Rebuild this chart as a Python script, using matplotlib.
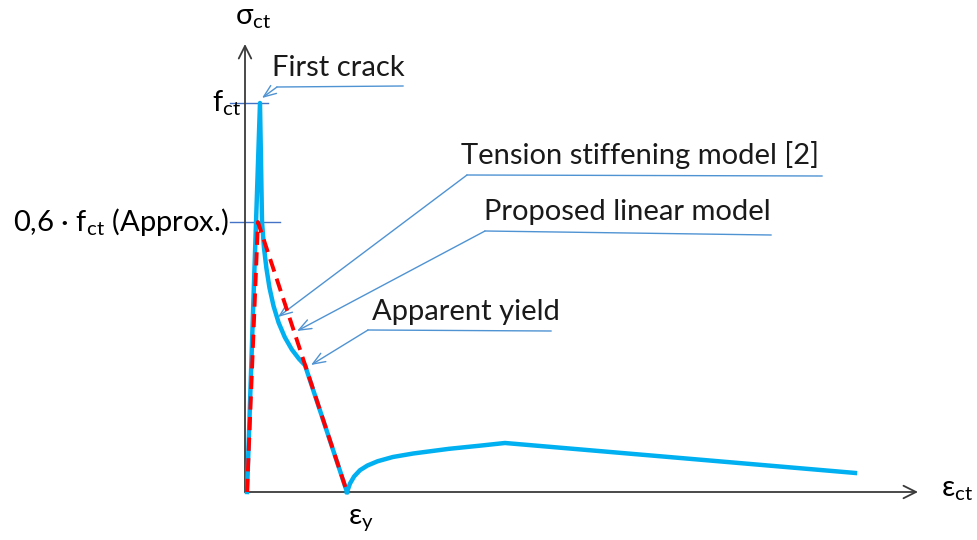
import matplotlib.pyplot as plt
import numpy as np

plt.rcParams['font.family'] = ['Lato', 'DejaVu Sans']
plt.rcParams['mathtext.fontset'] = 'custom'
plt.rcParams['mathtext.rm'] = 'Lato'
plt.rcParams['mathtext.it'] = 'Lato:italic'

# strain in units of eps_y, stress in units of f_ct
ts_eps = [0.02, 0.147, 0.167, 0.186, 0.21, 0.24, 0.28, 0.33, 0.39, 0.46, 0.53, 0.588, 1.0]
ts_sig = [0.0, 1.0, 0.694, 0.628, 0.575, 0.525, 0.478, 0.435, 0.398, 0.366, 0.342, 0.326, 0.0]
post_eps = [1.0, 1.03, 1.07, 1.127, 1.2, 1.3, 1.45, 1.65, 2.0, 2.3, 2.549, 5.98]
post_sig = [0.0, 0.022, 0.040, 0.056, 0.068, 0.079, 0.090, 0.099, 0.111, 0.119, 0.126, 0.049]
lin_eps = [0.02, 0.127, 1.0]
lin_sig = [0.0, 0.694, 0.0]
tick_sig = [1.0, 0.694]
tick_labels = ['f$_{\\mathrm{ct}}$', '0,6 · f$_{\\mathrm{ct}}$ (Approx.)']

# pixel -> data helper (image pixels, y from top)
X0, Y0, SX, SY = 245, 492, 102.0, 389.0
def px(x, y):
    return ((x - X0) / SX, (Y0 - y) / SY)

fig = plt.figure(figsize=(9.77, 5.4), dpi=100)
ax = fig.add_axes([0, 0, 1, 1])
ax.set_xlim(px(0, 0)[0], px(977, 0)[0])
ax.set_ylim(px(0, 540)[1], px(0, 0)[1])
ax.axis('off')

axis_col = '#3a3a3a'
blue = '#00b0f0'
lead = '#4f93d3'
tickc = '#4472c4'
fs = 21

# axes with open arrow heads
ax.annotate('', xy=px(245, 44), xytext=(0, 0),
            arrowprops=dict(arrowstyle='->,head_length=0.9,head_width=0.45', color=axis_col,
                            lw=1.3, shrinkA=0, shrinkB=0))
ax.annotate('', xy=px(918, 492), xytext=(0, 0),
            arrowprops=dict(arrowstyle='->,head_length=0.9,head_width=0.45', color=axis_col,
                            lw=1.3, shrinkA=0, shrinkB=0))

# tick marks on stress axis
ax.plot([px(230, 0)[0], px(268, 0)[0]], [tick_sig[0]] * 2, color=tickc, lw=1.0)
ax.plot([px(230, 0)[0], px(280, 0)[0]], [tick_sig[1]] * 2, color=tickc, lw=1.0)
ax.text(px(241, 0)[0], tick_sig[0], tick_labels[0], ha='right', va='center', fontsize=fs)
ax.text(px(229, 0)[0], tick_sig[1], tick_labels[1], ha='right', va='center', fontsize=fs)

# curves
ax.plot(ts_eps, ts_sig, color=blue, lw=3.2, solid_joinstyle='round', zorder=3)
ax.plot(post_eps, post_sig, color=blue, lw=3.2, solid_joinstyle='round', zorder=3)
ax.plot(lin_eps, lin_sig, color='red', lw=2.8, ls=(0, (3.4, 1.9)), zorder=4)

# axis labels
ax.text(*px(235, 18), 'σ$_{\\mathrm{ct}}$', ha='left', va='center', fontsize=fs)
ax.text(*px(941, 490), 'ε$_{\\mathrm{ct}}$', ha='left', va='center', fontsize=fs)
ax.text(*px(348, 520), 'ε$_{\\mathrm{y}}$', ha='left', va='center', fontsize=fs)

# annotations: text, underline end, knee, arrow target
notes = [
    ('First crack', (272, 68), (403, 86), (277, 87), (262, 98)),
    ('Tension stiffening model [2]', (461, 155), (822, 176), (467, 175), (278, 317)),
    ('Proposed linear model', (484, 212), (771, 235), (485, 231), (297, 331)),
    ('Apparent yield', (372, 312), (551, 331), (368, 330), (311, 365)),
]
for txt, tpos, end, knee, tgt in notes:
    ax.text(*px(*tpos), txt, ha='left', va='center', fontsize=fs, color='#1a1a1a')
    e, k = px(*end), px(*knee)
    ax.plot([e[0], k[0]], [e[1], k[1]], color=lead, lw=1.0)
    ax.annotate('', xy=px(*tgt), xytext=k,
                arrowprops=dict(arrowstyle='->,head_length=0.9,head_width=0.35', color=lead,
                                lw=1.0, shrinkA=0, shrinkB=0))

fig.savefig('out.png', dpi=100)
